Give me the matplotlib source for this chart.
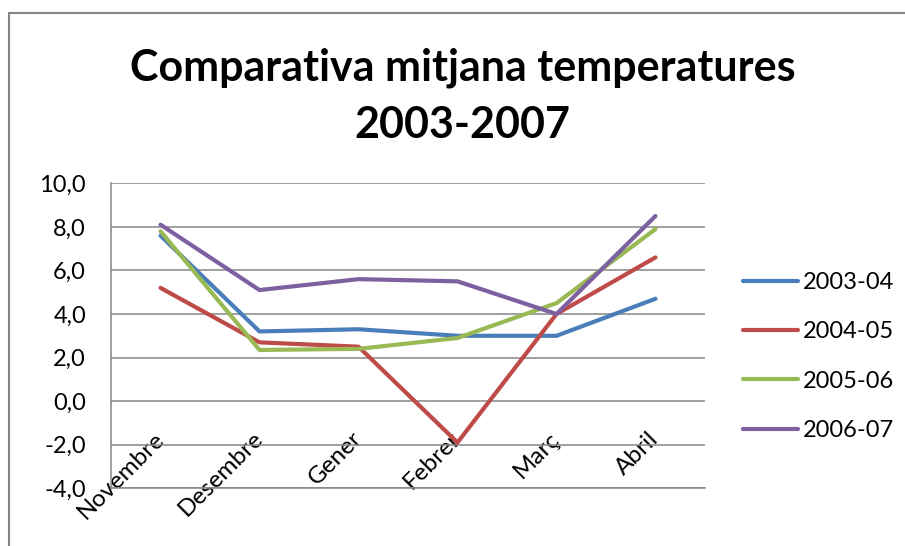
import matplotlib
matplotlib.use('Agg')
import matplotlib.pyplot as plt
import matplotlib.transforms as mtransforms
from matplotlib.patches import Rectangle
from matplotlib.ticker import FuncFormatter

plt.rcParams['font.family'] = ['Lato', 'DejaVu Sans']

# dades: mitjana de temperatures per mes i temporada
mesos = ['Novembre', 'Desembre', 'Gener', 'Febrer', 'Març', 'Abril']
t_2003_04 = [7.6, 3.2, 3.3, 3.0, 3.0, 4.7]
t_2004_05 = [5.2, 2.7, 2.5, -1.9, 4.0, 6.6]
t_2005_06 = [7.8, 2.35, 2.4, 2.9, 4.5, 7.9]
t_2006_07 = [8.1, 5.1, 5.6, 5.5, 4.0, 8.5]
temporades = ['2003-04', '2004-05', '2005-06', '2006-07']
colors = ['#4A7EBB', '#BE4B48', '#98B954', '#7D60A0']

gris = '#868686'

fig = plt.figure(figsize=(9.05, 5.46), dpi=100)
ax = fig.add_axes([111 / 905, 1 - 488.3 / 546, 594 / 905, 305 / 546])

x = list(range(len(mesos)))
for serie, nom, c in zip([t_2003_04, t_2004_05, t_2005_06, t_2006_07], temporades, colors):
    ax.plot(x, serie, color=c, lw=3, label=nom, solid_capstyle='round', solid_joinstyle='round')

ax.set_xlim(-0.5, 5.5)
ax.set_ylim(-4, 10)
ax.set_yticks(range(-4, 11, 2))
ax.yaxis.set_major_formatter(FuncFormatter(lambda v, p: f'{v:.1f}'.replace('.', ',')))
ax.grid(axis='y', color=gris, lw=1.1)
ax.set_axisbelow(True)
for s in ['top', 'right']:
    ax.spines[s].set_visible(False)
ax.spines['left'].set_color(gris)
ax.spines['bottom'].set_color(gris)
ax.spines['left'].set_linewidth(1.1)
ax.spines['bottom'].set_linewidth(1.1)
ax.tick_params(axis='y', length=0, pad=18, labelsize=17)
ax.tick_params(axis='x', length=0, pad=0, labelsize=17.5)

ax.set_xticks(x)
ax.set_xticklabels(mesos, rotation=45, ha='right', va='center', rotation_mode='anchor')
offset = mtransforms.ScaledTranslation(0 / 100, 53 / 100, fig.dpi_scale_trans)
for lab in ax.get_xticklabels():
    lab.set_transform(lab.get_transform() + offset)

fig.text(0.511, 1 - 48 / 546, 'Comparativa mitjana temperatures\n2003-2007',
         ha='center', va='top', fontsize=31, fontweight='bold', linespacing=1.5)

ax.legend(loc='center left', bbox_to_anchor=(743 / 905, 1 - 356.5 / 546),
          bbox_transform=fig.transFigure, frameon=False, fontsize=17,
          handlelength=2.35, handletextpad=0.2, labelspacing=1.2,
          borderpad=0, borderaxespad=0)

fig.patches.append(Rectangle((9 / 905, -0.1), 1.5, 0.1 + (546 - 12.7) / 546,
                             transform=fig.transFigure, fill=False,
                             edgecolor=gris, lw=1.5))

fig.savefig('out.png', dpi=100)
